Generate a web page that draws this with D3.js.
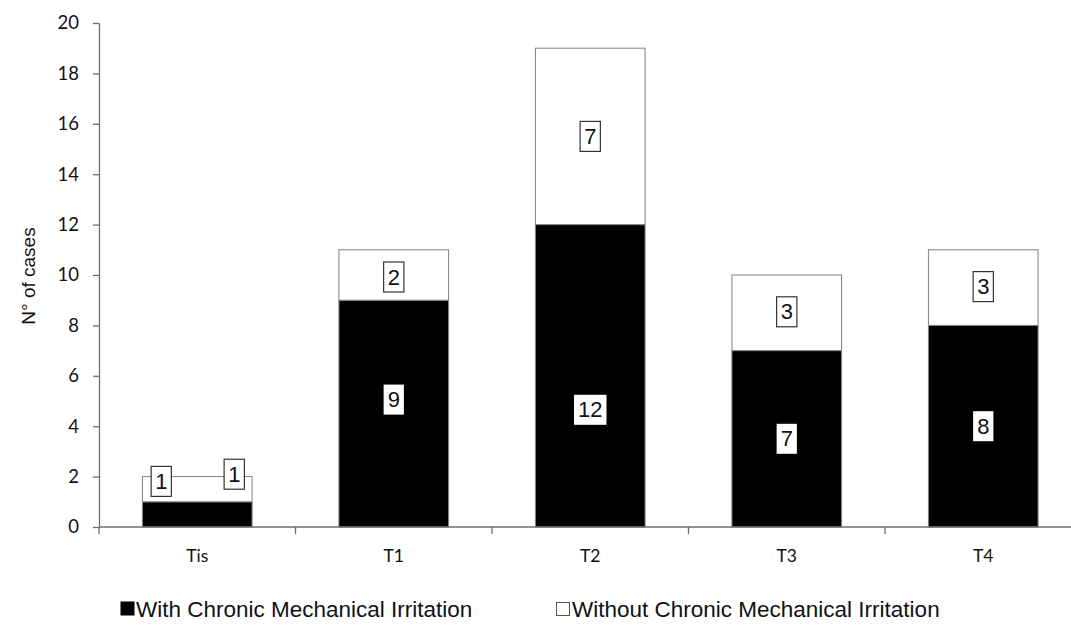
<!DOCTYPE html>
<html>
<head>
<meta charset="utf-8">
<script src="https://cdn.jsdelivr.net/npm/d3@7"></script>
<style>
  html, body { margin: 0; padding: 0; background: #fff; }
  svg { display: block; }
</style>
</head>
<body>
<svg id="chart" width="1071" height="643"></svg>
<script>
// ---- data ----
const categories = ["Tis", "T1", "T2", "T3", "T4"];
const withCMI = [1, 9, 12, 7, 8];
const withoutCMI = [1, 2, 7, 3, 3];
const seriesNames = ["With Chronic Mechanical Irritation", "Without Chronic Mechanical Irritation"];
const yTicks = [0, 2, 4, 6, 8, 10, 12, 14, 16, 18, 20];
// label nudges (px) as placed in the original chart
const nudgeWith = [[-36, -33], [0, -14], [0, 34], [0, 0], [0, 0]];
const nudgeWithout = [[37, -15], [0, 2], [0, 0], [0, -1], [0, -1]];

(function () {
const svg = d3.select("#chart");
const W = 1071;
const mLeft = 99, mTop = 23, mBottom = 527;
const step = 196.5;

const x = d3.scaleBand()
  .domain(categories)
  .range([mLeft, mLeft + step * categories.length])
  .paddingInner(0.442)
  .paddingOuter(0.221);

const y = d3.scaleLinear().domain([0, 20]).range([mBottom, mTop]);

const axisColor = "#6e6e6e";
const barStroke = "#808080";

const stacked = categories.map((c, i) => ({
  cat: c, a: withCMI[i], b: withoutCMI[i], i
}));

const g = svg.append("g");
g.selectAll("rect.with").data(stacked).enter().append("rect")
  .attr("class", "with")
  .attr("x", d => x(d.cat))
  .attr("width", x.bandwidth())
  .attr("y", d => y(d.a))
  .attr("height", d => y(0) - y(d.a))
  .attr("fill", "#000")
  .attr("stroke", barStroke)
  .attr("stroke-width", 1);

g.selectAll("rect.without").data(stacked).enter().append("rect")
  .attr("class", "without")
  .attr("x", d => x(d.cat))
  .attr("width", x.bandwidth())
  .attr("y", d => y(d.a + d.b))
  .attr("height", d => y(d.a) - y(d.a + d.b))
  .attr("fill", "#fff")
  .attr("stroke", barStroke)
  .attr("stroke-width", 1);

// y axis
const yAxis = d3.axisLeft(y).tickValues(yTicks).tickSize(6).tickSizeOuter(0).tickPadding(14);
const ya = svg.append("g").attr("transform", `translate(${mLeft},0)`).call(yAxis);
ya.select(".domain").attr("stroke", axisColor).attr("stroke-width", 1.3);
ya.selectAll(".tick line").attr("stroke", axisColor).attr("stroke-width", 1.3);
ya.selectAll(".tick text")
  .attr("font-family", "Lato, 'Open Sans', sans-serif")
  .attr("font-size", "18.5px")
  .attr("fill", "#111");

// x axis line
svg.append("line")
  .attr("x1", mLeft).attr("x2", W)
  .attr("y1", mBottom).attr("y2", mBottom)
  .attr("stroke", axisColor).attr("stroke-width", 1.3);

const halfGap = (x.step() - x.bandwidth()) / 2;
const bounds = categories.map(c => x(c) - halfGap).concat([x(categories[categories.length - 1]) + x.bandwidth() + halfGap]);
svg.selectAll("line.xtick").data(bounds).enter().append("line")
  .attr("class", "xtick")
  .attr("x1", d => d).attr("x2", d => d)
  .attr("y1", mBottom).attr("y2", mBottom + 7)
  .attr("stroke", axisColor).attr("stroke-width", 1.3);

svg.selectAll("text.xlab").data(categories).enter().append("text")
  .attr("class", "xlab")
  .attr("x", d => x(d) + x.bandwidth() / 2)
  .attr("y", 562)
  .attr("text-anchor", "middle")
  .attr("font-family", "Lato, 'Open Sans', sans-serif")
  .attr("font-size", "17.5px")
  .attr("fill", "#111")
  .text(d => d);

// y title
svg.append("text")
  .attr("transform", `translate(35,276) rotate(-90)`)
  .attr("text-anchor", "middle")
  .attr("font-family", "'Liberation Sans', Arial, sans-serif")
  .attr("font-size", "19px")
  .attr("fill", "#111")
  .text("N° of cases");

// data labels
function label(cx, cy, txt, bordered) {
  const t = svg.append("text")
    .attr("x", cx).attr("y", cy)
    .attr("text-anchor", "middle")
    .attr("dominant-baseline", "central")
    .attr("font-family", "'Liberation Sans', Arial, sans-serif")
    .attr("font-size", "22px")
    .attr("fill", "#111")
    .text(txt);
  const bb = t.node().getBBox();
  const bw = bb.width + 8, bh = 30;
  svg.insert("rect", () => t.node())
    .attr("x", cx - bw / 2).attr("y", cy - bh / 2)
    .attr("width", bw).attr("height", bh)
    .attr("fill", "#fff")
    .attr("stroke", bordered ? "#333" : "none")
    .attr("stroke-width", 1.2);
}

stacked.forEach(d => {
  const cx = x(d.cat) + x.bandwidth() / 2;
  const n1 = nudgeWith[d.i], n2 = nudgeWithout[d.i];
  label(cx + n1[0], y(d.a / 2) + n1[1], d.a, d.i === 0);
  label(cx + n2[0], y(d.a + d.b / 2) + n2[1], d.b, true);
});

// legend
const legend = svg.append("g");
legend.append("rect").attr("x", 121).attr("y", 602).attr("width", 13).attr("height", 13)
  .attr("fill", "#000").attr("stroke", "#000");
legend.append("text").attr("x", 136).attr("y", 617)
  .attr("font-family", "'Liberation Sans', Arial, sans-serif")
  .attr("font-size", "22.5px").attr("fill", "#111")
  .text(seriesNames[0]);
legend.append("rect").attr("x", 556.5).attr("y", 602.5).attr("width", 13).attr("height", 13)
  .attr("fill", "#fff").attr("stroke", "#555").attr("stroke-width", 1);
legend.append("text").attr("x", 572).attr("y", 617)
  .attr("font-family", "'Liberation Sans', Arial, sans-serif")
  .attr("font-size", "22.5px").attr("fill", "#111")
  .text(seriesNames[1]);
})();
</script>
</body>
</html>
